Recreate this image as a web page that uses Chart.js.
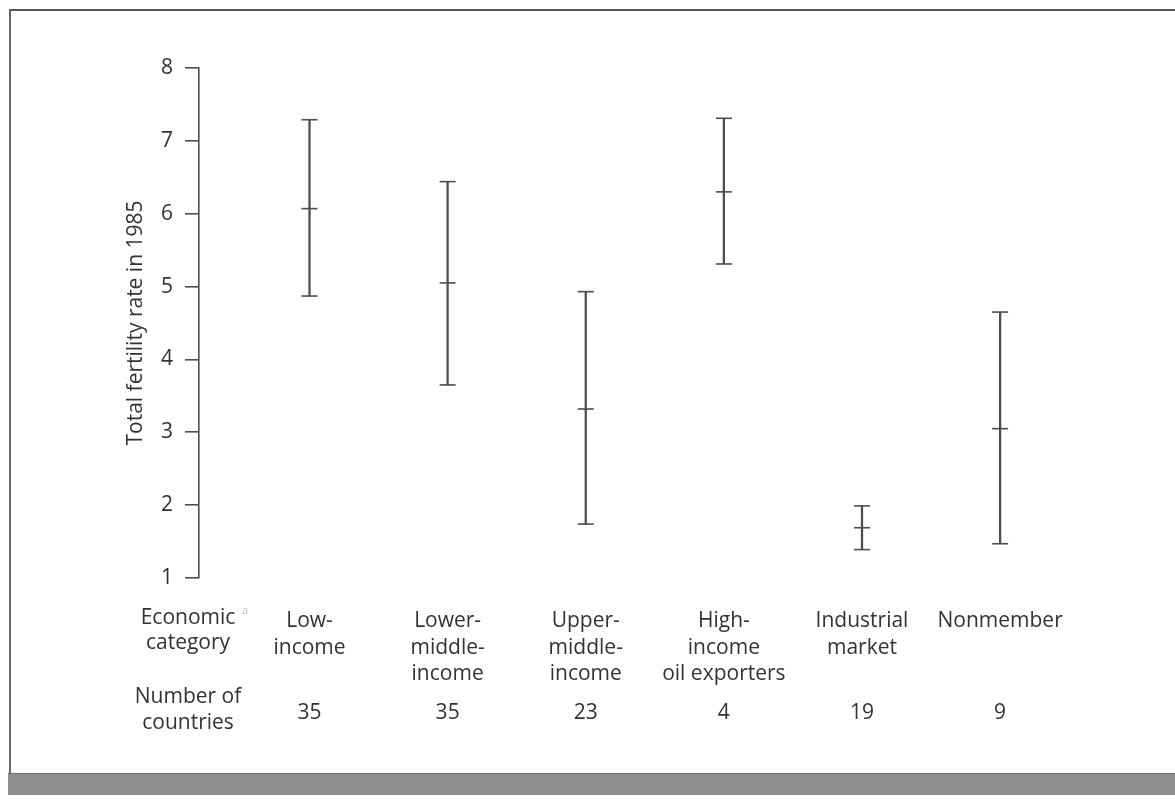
<!DOCTYPE html>
<html>
<head>
<meta charset="utf-8">
<title>Total fertility rate in 1985</title>
<script src="https://cdn.jsdelivr.net/npm/chart.js@4.4.1/dist/chart.umd.min.js"></script>
<style>
  html, body { margin: 0; padding: 0; background: #fff; }
  .page { position: relative; width: 1175px; height: 800px; overflow: hidden; }
  .page canvas { position: absolute; left: 0; top: 0; }
  .frame-top { position: absolute; left: 9px; top: 9px; width: 1166px; border-top: 2px solid #555; }
  .frame-left { position: absolute; left: 9px; top: 9px; height: 764px; border-left: 2px solid #666; }
  .band { position: absolute; left: 8px; top: 773px; width: 1167px; height: 21px; background: #8f8f8f; border-top: 1px solid #6e6e6e; }
</style>
</head>
<body>
<div class="page">
  <div class="frame-top"></div>
  <div class="frame-left"></div>
  <div class="band"></div>
  <canvas id="chart" width="1175" height="800"></canvas>
</div>
<script>
const categories = [
  ["Low-", "income"],
  ["Lower-", "middle-", "income"],
  ["Upper-", "middle-", "income"],
  ["High-", "income", "oil exporters"],
  ["Industrial", "market"],
  ["Nonmember"],
];
const countryCounts = [35, 35, 23, 4, 19, 9];
const highValues = [7.29, 6.44, 4.93, 7.31, 1.99, 4.65];
const meanValues = [6.07, 5.05, 3.32, 6.3, 1.69, 3.05];
const lowValues = [4.87, 3.65, 1.74, 5.31, 1.39, 1.47];
const rowHeaders = [["Economic", "category"], ["Number of", "countries"]];
const yTitle = "Total fertility rate in 1985";

const fontFamily = '"Open Sans", "DejaVu Sans", sans-serif';
const textColor = "#333";
const lineColor = "#4d4d4d";

// category i sits at x = i + 1 on the linear x scale
const rangeData = categories.map((c, i) => ({ x: i + 1, y: [lowValues[i], highValues[i]] }));
const capPoints = (vals) => vals.map((v, i) => ({ x: i + 1, y: v }));

const capStyle = {
  type: "scatter",
  pointStyle: "line",
  pointRadius: 8,
  pointHoverRadius: 8,
  borderColor: lineColor,
  backgroundColor: lineColor,
  pointBorderWidth: 1.6,
};

// table of category names and country counts under the plot
const tableLabels = {
  id: "tableLabels",
  afterDraw(chart) {
    const { ctx, chartArea } = chart;
    const x = chart.scales.x;
    const base = chartArea.bottom;
    ctx.save();
    ctx.font = "21px " + fontFamily;
    ctx.fillStyle = textColor;
    ctx.textAlign = "center";
    ctx.textBaseline = "alphabetic";
    categories.forEach((lines, i) => {
      const cx = x.getPixelForValue(i + 1);
      lines.forEach((line, j) => ctx.fillText(line, cx, base + 49 + j * 26.5));
      ctx.fillText(String(countryCounts[i]), cx, base + 141);
    });
    const hx = chartArea.left - 11;
    ctx.fillText(rowHeaders[0][0], hx, base + 46);
    ctx.fillText(rowHeaders[0][1], hx, base + 71);
    ctx.fillText(rowHeaders[1][0], hx, base + 125);
    ctx.fillText(rowHeaders[1][1], hx, base + 151);
    // faint footnote mark after "Economic"
    ctx.font = "11px " + fontFamily;
    ctx.fillStyle = "#bbb";
    ctx.fillText("a", hx + 57, base + 36);
    ctx.restore();
  },
};

new Chart(document.getElementById("chart"), {
  type: "bar",
  data: {
    datasets: [
      {
        type: "bar",
        data: rangeData,
        backgroundColor: lineColor,
        borderWidth: 0,
        barThickness: 1.6,
        grouped: false,
      },
      { ...capStyle, data: capPoints(highValues) },
      { ...capStyle, data: capPoints(meanValues) },
      { ...capStyle, data: capPoints(lowValues) },
    ],
  },
  options: {
    responsive: false,
    animation: false,
    devicePixelRatio: 1,
    layout: { padding: { left: 95, top: 68, right: 92, bottom: 222 } },
    plugins: {
      legend: { display: false },
      tooltip: { enabled: false },
    },
    scales: {
      x: {
        type: "linear",
        min: 0.2,
        max: 6.6,
        offset: false,
        ticks: { display: false },
        grid: { display: false, drawTicks: false, offset: false },
        border: { display: false },
        afterFit: (scale) => {
          scale.height = 0;
        },
      },
      y: {
        type: "linear",
        min: 1,
        max: 8,
        afterFit: (scale) => {
          scale.width = 104;
        },
        ticks: {
          stepSize: 1,
          padding: 12,
          color: textColor,
          font: { family: fontFamily, size: 21 },
        },
        grid: {
          drawOnChartArea: false,
          drawTicks: true,
          tickLength: 14,
          color: lineColor,
          lineWidth: 1.6,
        },
        border: { display: true, color: lineColor, width: 1.6 },
        title: {
          display: true,
          text: yTitle,
          color: textColor,
          font: { family: fontFamily, size: 21 },
          padding: { top: 28, bottom: 0 },
        },
      },
    },
  },
  plugins: [tableLabels],
});
</script>
</body>
</html>
